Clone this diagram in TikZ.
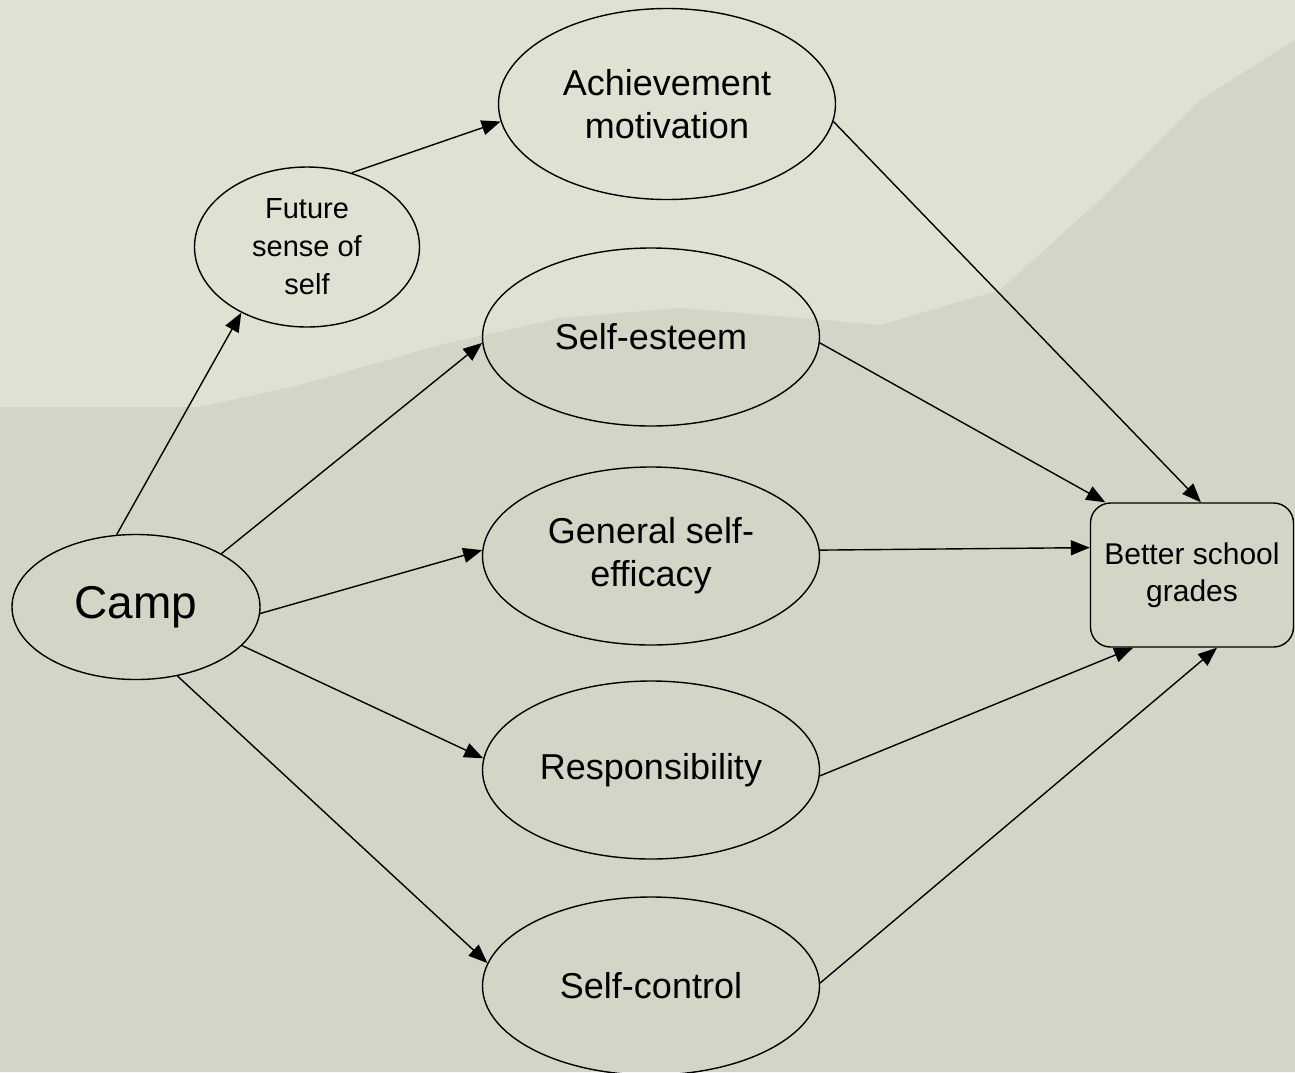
\documentclass[tikz,border=0pt]{standalone}
\usepackage{fontspec}
\setmainfont{Liberation Sans}
\usepackage{xcolor}
\usetikzlibrary{shapes.geometric, arrows.meta}

\definecolor{paperlight}{RGB}{225,225,211}
\definecolor{paperdark}{RGB}{213,213,199}

\begin{document}
\begin{tikzpicture}[x=1pt, y=-1pt, ->, >={Triangle[length=19pt, width=15pt]}, line width=1.4pt,
    factor/.style={ellipse, draw, minimum width=337pt, minimum height=178pt, inner sep=0pt, align=center, font=\fontsize{36}{43}\selectfont}]
    % paper background
    \useasboundingbox (0,0) rectangle (1295,1072);
    \fill[paperlight, -] (0,0) rectangle (1295,1072);
    \fill[paperdark, -] (0,407) -- (200,407) -- (300,385) -- (440,345) -- (560,318) -- (680,308)
        -- (800,318) -- (880,325) -- (1000,290) -- (1100,200) -- (1200,100) -- (1295,40)
        -- (1295,1072) -- (0,1072) -- cycle;

    \node[ellipse, draw, minimum width=248pt, minimum height=145pt, inner sep=0pt,
          font=\fontsize{46}{54}\selectfont] (camp) at (136,607) {Camp};
    \node[ellipse, draw, minimum width=225pt, minimum height=160pt, inner sep=0pt, align=center,
          font=\fontsize{29}{38}\selectfont] (future) at (307,247) {Future\\sense of\\self};

    \node[factor, minimum height=191pt] (achieve)  at (667,104) {Achievement\\motivation};
    \node[factor]                       (esteem)   at (651,337) {Self-esteem};
    \node[factor]                       (efficacy) at (651,556) {General self-\\efficacy};
    \node[factor]                       (respons)  at (651,770) {Responsibility};
    \node[factor]                       (control)  at (651,986) {Self-control};

    \node[rectangle, rounded corners=20pt, draw, minimum width=203pt, minimum height=144pt,
          inner sep=0pt, align=center, font=\fontsize{30}{37}\selectfont] (grades) at (1192,575) {Better school\\grades};

    \path (camp.105)    edge (future.225)
          (future.59)   edge (achieve.186)
          (camp.32)     edge (esteem.182)
          (camp.-3)     edge (efficacy.178)
          (camp.-20)    edge (respons.176)
          (camp.-59)    edge (control.172)
          (achieve.-6)  edge (grades.83)
          (esteem.-2)   edge (grades.140)
          (efficacy.2.5) edge (grades.165)
          (respons.-2)  edge (grades.231)
          (control.1)   edge (grades.289);
\end{tikzpicture}
\end{document}
